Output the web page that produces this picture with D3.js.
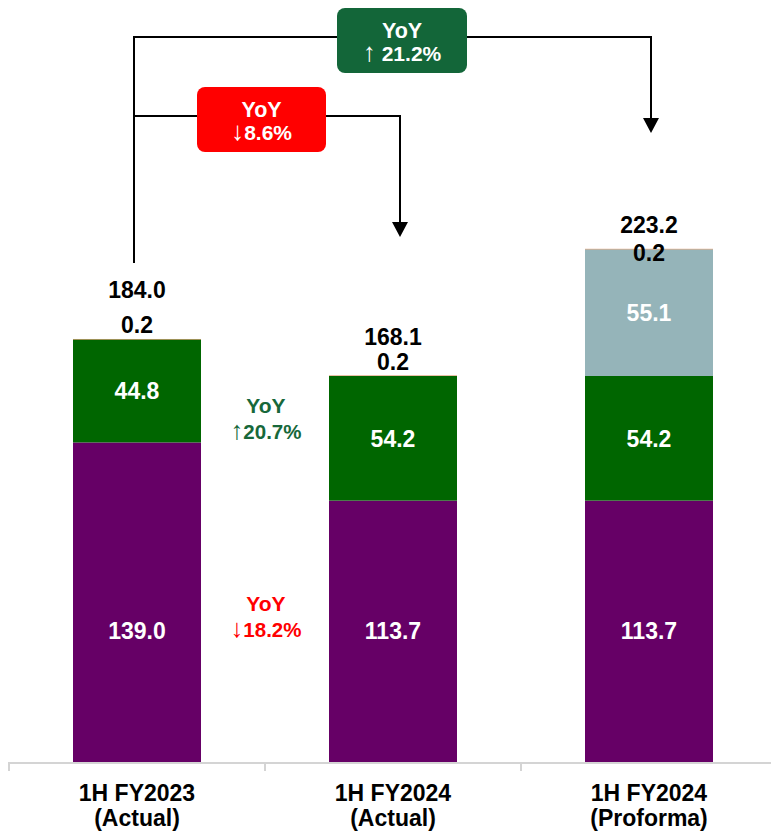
<!DOCTYPE html>
<html>
<head>
<meta charset="utf-8">
<script src="https://cdn.jsdelivr.net/npm/d3@7"></script>
<style>
  html, body { margin: 0; padding: 0; background: #fff; }
  svg { display: block; }
  text { font-family: "Liberation Sans", Arial, sans-serif; font-weight: bold; }
  .arr { font-weight: normal; }
</style>
</head>
<body>
<svg id="chart" width="771" height="831"></svg>
<script>
// ---- data ----
const categories = ["1H FY2023|(Actual)", "1H FY2024|(Actual)", "1H FY2024|(Proforma)"];
const purpleSeries = [139.0, 113.7, 113.7];
const greenSeries  = [44.8, 54.2, 54.2];
const graySeries   = [0, 0, 55.1];
const orangeSeries = [0.2, 0.2, 0.2];
const totals       = [184.0, 168.1, 223.2];
const yoyMid = [{t1: "YoY", arrow: "\u2191", t2: "20.7%", kind: "up"}, {t1: "YoY", arrow: "\u2193", t2: "18.2%", kind: "down"}];
const yoyBoxes = [{t1: "YoY", arrow: "\u2191", t2: " 21.2%", kind: "up"}, {t1: "YoY", arrow: "\u2193", t2: "8.6%", kind: "down"}];

// ---- layout ----
const W = 771, H = 831;
const svg = d3.select("#chart");
const baseY = 762;
const pxPerUnit = 2.299;
const y = d3.scaleLinear().domain([0, 240]).range([baseY, baseY - 240 * pxPerUnit]);
const x = d3.scaleBand().domain(categories).range([9, 777]).paddingInner(0.5).paddingOuter(0.25);

const colors = {purple: "#660066", green: "#006600", gray: "#95B4B9", orange: "#D4773C"};
const seriesDefs = [
  {key: "purple", values: purpleSeries, color: colors.purple},
  {key: "green", values: greenSeries, color: colors.green},
  {key: "gray", values: graySeries, color: colors.gray},
  {key: "orange", values: orangeSeries, color: colors.orange}
];

// stack
const rows = categories.map((c, i) => {
  const r = {cat: c};
  seriesDefs.forEach(s => r[s.key] = s.values[i]);
  return r;
});
const stack = d3.stack().keys(seriesDefs.map(s => s.key));
const stacked = stack(rows);

const g = svg.append("g");
stacked.forEach((layer, li) => {
  g.selectAll(null).data(layer).enter().append("rect")
    .attr("x", d => x(d.data.cat))
    .attr("width", x.bandwidth())
    .attr("y", d => y(d[1]))
    .attr("height", d => Math.max(0, y(d[0]) - y(d[1])))
    .attr("fill", seriesDefs[li].color);
});

// segment labels (white)
const fs = 23;
stacked.forEach((layer, li) => {
  const key = seriesDefs[li].key;
  if (key === "orange") return;
  layer.forEach((d, i) => {
    const v = d[1] - d[0];
    if (v <= 0) return;
    let cy = (y(d[0]) + y(d[1])) / 2;
    if (key === "purple") cy = y(0) - 131;
    g.append("text")
      .attr("x", x(d.data.cat) + x.bandwidth() / 2)
      .attr("y", cy)
      .attr("dy", "0.36em")
      .attr("text-anchor", "middle")
      .attr("fill", "#fff")
      .attr("font-size", fs)
      .text(v.toFixed(1));
  });
});

// 0.2 labels and totals
const smallOffsets = [14, 14, -4];   // label centre distance above bar top
const totalOffsets = [49, 39, 24];
categories.forEach((c, i) => {
  const top = y(totals[i]);
  const cx = x(c) + x.bandwidth() / 2;
  g.append("text").attr("x", cx).attr("y", top - smallOffsets[i]).attr("dy", "0.36em")
    .attr("text-anchor", "middle").attr("fill", "#000").attr("font-size", fs)
    .text(orangeSeries[i].toFixed(1));
  g.append("text").attr("x", cx).attr("y", top - totalOffsets[i]).attr("dy", "0.36em")
    .attr("text-anchor", "middle").attr("fill", "#000").attr("font-size", fs)
    .text(totals[i].toFixed(1));
});

// axis
const ax = svg.append("g");
ax.append("line").attr("x1", x.range()[0]).attr("x2", W).attr("y1", baseY + 1).attr("y2", baseY + 1)
  .attr("stroke", "#d4d4d4").attr("stroke-width", 2);
categories.forEach((c, i) => {
  const tickX = x.range()[0] + i * x.step();
  ax.append("line").attr("x1", tickX).attr("x2", tickX).attr("y1", baseY).attr("y2", baseY + 9)
    .attr("stroke", "#d4d4d4").attr("stroke-width", 2);
  const parts = c.split("|");
  const cx = x(c) + x.bandwidth() / 2;
  parts.forEach((p, k) => {
    ax.append("text").attr("x", cx).attr("y", 793 + k * 25).attr("dy", "0.36em")
      .attr("text-anchor", "middle").attr("fill", "#000").attr("font-size", 23).text(p);
  });
});

function arrowText(sel, d, size) {
  sel.append("tspan").attr("class", "arr").attr("font-size", size * 1.25).text(d.arrow);
  sel.append("tspan").text(d.t2);
}

// middle YoY labels
const midGreen = "#17683A", red = "#FF0000";
const midX = x.range()[0] + x.step();
const midYs = [[405, 432], [603, 630]];
yoyMid.forEach((m, i) => {
  const col = m.kind === "up" ? midGreen : red;
  svg.append("text").attr("x", midX + 1).attr("y", midYs[i][0]).attr("dy", "0.36em")
    .attr("text-anchor", "middle").attr("fill", col).attr("font-size", 21).text(m.t1);
  const t = svg.append("text").attr("x", midX + 1).attr("y", midYs[i][1] + 7)
    .attr("text-anchor", "middle").attr("fill", col).attr("font-size", 20.5);
  arrowText(t, m, 20.5);
});

// brackets
const c0 = x(categories[0]) + x.bandwidth() / 2 - 3;
const c1 = x(categories[1]) + x.bandwidth() / 2 + 7;
const c2 = x(categories[2]) + x.bandwidth() / 2 + 2;
const ann = svg.append("g");
function arrowHead(px, tipY) {
  ann.append("path").attr("d", `M${px - 8},${tipY - 15} L${px + 8},${tipY - 15} L${px},${tipY} Z`).attr("fill", "#000");
}
// outer bracket
ann.append("path").attr("d", `M${c0},263 L${c0},37 L${c2},37 L${c2},119`)
  .attr("fill", "none").attr("stroke", "#000").attr("stroke-width", 2);
arrowHead(c2, 133);
// inner bracket
ann.append("path").attr("d", `M${c0},116 L${c1},116 L${c1},223`)
  .attr("fill", "none").attr("stroke", "#000").attr("stroke-width", 2);
arrowHead(c1, 237);

// boxes
const boxDefs = [
  {x: 337, y: 8, w: 130, h: 65, fill: "#136639", d: yoyBoxes[0]},
  {x: 197, y: 87, w: 129, h: 65, fill: "#FF0000", d: yoyBoxes[1]}
];
boxDefs.forEach(b => {
  ann.append("rect").attr("x", b.x).attr("y", b.y).attr("width", b.w).attr("height", b.h)
    .attr("rx", 8).attr("fill", b.fill);
  ann.append("text").attr("x", b.x + b.w / 2).attr("y", b.y + 22).attr("dy", "0.36em")
    .attr("text-anchor", "middle").attr("fill", "#fff").attr("font-size", 21.5).text(b.d.t1);
  const t = ann.append("text").attr("x", b.x + b.w / 2).attr("y", b.y + 53)
    .attr("text-anchor", "middle").attr("fill", "#fff").attr("font-size", 21);
  arrowText(t, b.d, 21);
});
</script>
</body>
</html>
